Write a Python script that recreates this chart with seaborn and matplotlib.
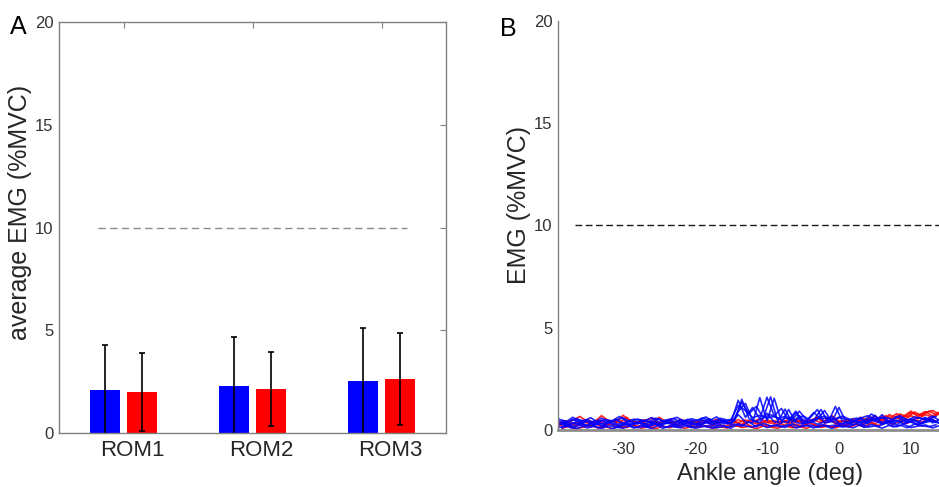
import numpy as np
import pandas as pd
import matplotlib
matplotlib.use('Agg')
import matplotlib.pyplot as plt
import seaborn as sns
from matplotlib.transforms import ScaledTranslation

# Panel A: average EMG per range of motion
rom_labels = ['ROM1', 'ROM2', 'ROM3']
groups = ['Group 1', 'Group 2']
blue_mean = [2.07, 2.27, 2.53]
blue_sd = [2.19, 2.38, 2.60]
red_mean = [2.00, 2.14, 2.63]
red_sd = [1.88, 1.81, 2.26]
threshold = 10

# Panel B: EMG traces against ankle angle
ankle_angle = [-39, -38, -37, -36, -35, -34, -33, -32, -31, -30,
               -29, -28, -27, -26, -25, -24, -23, -22, -21, -20,
               -19, -18, -17, -16, -15, -14, -13, -12, -11, -10,
               -9, -8, -7, -6, -5, -4, -3, -2, -1, 0,
               1, 2, 3, 4, 5, 6, 7, 8, 9, 10,
               11, 12, 13, 14]
ankle_angle_half = [-38.5, -37.5, -36.5, -35.5, -34.5, -33.5, -32.5, -31.5, -30.5, -29.5,
                    -28.5, -27.5, -26.5, -25.5, -24.5, -23.5, -22.5, -21.5, -20.5, -19.5,
                    -18.5, -17.5, -16.5, -15.5, -14.5, -13.5, -12.5, -11.5, -10.5, -9.5,
                    -8.5, -7.5, -6.5, -5.5, -4.5, -3.5, -2.5, -1.5, -0.5, 0.5,
                    1.5, 2.5, 3.5, 4.5, 5.5, 6.5, 7.5, 8.5, 9.5, 10.5,
                    11.5, 12.5, 13.5]

blue_1 = [0.45, 0.30, 0.52, 0.38, 0.41, 0.28, 0.47, 0.35, 0.50, 0.33,
          0.42, 0.29, 0.48, 0.37, 0.55, 0.31, 0.44, 0.36, 0.40, 0.27,
          0.49, 0.34, 0.43, 0.30, 0.38, 1.45, 0.62, 1.10, 0.55, 1.60,
          0.70, 1.05, 0.48, 0.92, 0.40, 0.35, 0.52, 0.95, 0.41, 1.10,
          0.38, 0.45, 0.33, 0.51, 0.42, 0.75, 0.36, 0.48, 0.30, 0.55,
          0.40, 0.62, 0.35, 0.50]
blue_2 = [0.25, 0.40, 0.18, 0.35, 0.22, 0.46, 0.20, 0.38, 0.15, 0.30,
          0.26, 0.41, 0.19, 0.33, 0.24, 0.45, 0.21, 0.36, 0.17, 0.32,
          0.28, 0.42, 0.20, 0.50, 0.30, 0.75, 0.40, 0.35, 1.58, 0.45,
          1.55, 0.42, 0.38, 0.85, 0.30, 0.44, 0.28, 0.40, 0.65, 0.33,
          0.27, 0.41, 0.60, 0.35, 0.72, 0.30, 0.45, 0.25, 0.50, 0.38,
          0.29, 0.44, 0.52, 0.31]
blue_3 = [0.12, 0.20, 0.08, 0.25, 0.10, 0.18, 0.06, 0.22, 0.14, 0.09,
          0.21, 0.11, 0.17, 0.07, 0.24, 0.13, 0.19, 0.10, 0.26, 0.08,
          0.16, 0.23, 0.11, 0.18, 0.09, 0.30, 0.20, 0.14, 0.27, 0.12,
          0.22, 0.15, 0.28, 0.10, 0.19, 0.25, 0.13, 0.21, 0.08, 0.24,
          0.17, 0.11, 0.26, 0.14, 0.20, 0.09, 0.23, 0.16, 0.28, 0.12,
          0.19, 0.25, 0.10, 0.22]
blue_4 = [0.55, 0.38, 0.62, 0.44, 0.50, 0.36, 0.58, 0.41, 0.47, 0.60,
          0.39, 0.53, 0.45, 0.61, 0.37, 0.49, 0.56, 0.40, 0.52, 0.43,
          0.59, 0.46, 0.64, 0.38, 0.51, 1.20, 0.95, 0.60, 0.72, 0.58,
          0.66, 0.50, 0.62, 0.45, 0.70, 0.48, 0.55, 0.68, 0.47, 0.63,
          0.52, 0.44, 0.58, 0.70, 0.49, 0.61, 0.43, 0.66, 0.54, 0.47,
          0.60, 0.51, 0.68, 0.45]
blue_5 = [0.32, 0.22, 0.36, 0.27, 0.44, 0.24, 0.31, 0.40, 0.26, 0.35,
          0.23, 0.37, 0.29, 0.42, 0.25, 0.34, 0.28, 0.50, 0.33, 0.26,
          0.38, 0.55, 0.31, 0.44, 0.27, 0.90, 1.30, 0.48, 0.36, 0.82,
          0.40, 0.33, 1.00, 0.37, 0.29, 0.60, 1.00, 0.34, 0.42, 0.28,
          0.36, 0.25, 0.43, 0.31, 0.58, 0.27, 0.39, 0.46, 0.30, 0.41,
          0.26, 0.37, 0.45, 0.33]
blue_6 = [0.35, 0.20, 0.42, 0.28, 0.16, 0.38, 0.25, 0.45, 0.19, 0.33,
          0.27, 0.40, 0.18, 0.36, 0.24, 0.48, 0.22, 0.31, 0.43, 0.20,
          0.37, 0.26, 0.52, 0.30, 0.45, 1.50, 0.55, 0.40, 0.62, 1.62,
          0.42, 1.02, 0.36, 0.70, 0.33, 0.48, 1.00, 0.38, 1.15, 0.41,
          0.30, 0.46, 0.25, 0.62, 0.35, 0.44, 0.28, 0.52, 0.37, 0.45,
          0.31, 0.49, 0.36]
blue_7 = [0.10, 0.24, 0.07, 0.19, 0.28, 0.12, 0.21, 0.06, 0.17, 0.26,
          0.09, 0.22, 0.14, 0.30, 0.08, 0.20, 0.13, 0.27, 0.11, 0.23,
          0.16, 0.09, 0.25, 0.13, 0.29, 0.18, 0.40, 0.15, 0.33, 0.20,
          0.26, 0.12, 0.30, 0.17, 0.22, 0.10, 0.28, 0.19, 0.24, 0.14,
          0.21, 0.32, 0.12, 0.27, 0.18, 0.35, 0.15, 0.24, 0.11, 0.29,
          0.20, 0.16, 0.26]
blue_8 = [0.48, 0.40, 0.56, 0.43, 0.60, 0.38, 0.51, 0.45, 0.66, 0.41,
          0.53, 0.47, 0.39, 0.58, 0.44, 0.50, 0.62, 0.42, 0.55, 0.46,
          0.64, 0.40, 0.57, 0.49, 0.53, 1.35, 0.80, 1.15, 0.60, 0.75,
          0.58, 0.66, 0.50, 0.92, 0.47, 0.85, 0.54, 0.61, 0.49, 0.68,
          0.52, 0.58, 0.45, 0.78, 0.55, 0.62, 0.50, 0.70, 0.48, 0.64,
          0.57, 0.53, 0.66]
red_1 = [0.40, 0.35, 0.48, 0.66, 0.42, 0.38, 0.70, 0.45, 0.36, 0.72,
         0.44, 0.39, 0.50, 0.36, 0.62, 0.41, 0.37, 0.48, 0.43, 0.35,
         0.46, 0.40, 0.52, 0.38, 0.44, 0.36, 0.49, 0.41, 0.55, 0.39,
         0.45, 0.37, 0.50, 0.42, 0.48, 0.40, 0.62, 0.38, 0.70, 0.43,
         0.47, 0.52, 0.44, 0.58, 0.49, 0.66, 0.55, 0.80, 0.60, 0.85,
         0.72, 0.90, 0.68, 0.88]
red_2 = [0.18, 0.30, 0.12, 0.26, 0.20, 0.34, 0.15, 0.28, 0.22, 0.11,
         0.27, 0.16, 0.32, 0.19, 0.25, 0.13, 0.29, 0.21, 0.35, 0.17,
         0.24, 0.14, 0.31, 0.20, 0.26, 0.18, 0.33, 0.15, 0.28, 0.22,
         0.19, 0.30, 0.16, 0.27, 0.21, 0.36, 0.18, 0.25, 0.14, 0.29,
         0.23, 0.38, 0.20, 0.45, 0.31, 0.52, 0.40, 0.60, 0.48, 0.70,
         0.55, 0.75, 0.62, 0.80]
red_3 = [0.30, 0.45, 0.28, 0.40, 0.52, 0.33, 0.47, 0.29, 0.55, 0.36,
         0.50, 0.31, 0.43, 0.58, 0.34, 0.46, 0.30, 0.52, 0.38, 0.44,
         0.33, 0.48, 0.37, 0.42, 0.29, 0.51, 0.35, 0.45, 0.32, 0.49,
         0.38, 0.43, 0.31, 0.52, 0.36, 0.47, 0.60, 0.34, 0.44, 0.39,
         0.50, 0.36, 0.62, 0.45, 0.70, 0.42, 0.75, 0.58, 0.68, 0.92,
         0.65, 0.85, 0.95, 0.78]
red_4 = [0.28, 0.42, 0.22, 0.38, 0.31, 0.50, 0.25, 0.44, 0.36, 0.62,
         0.30, 0.47, 0.26, 0.40, 0.33, 0.52, 0.27, 0.43, 0.35, 0.29,
         0.41, 0.24, 0.46, 0.32, 0.38, 0.27, 0.44, 0.30, 0.39, 0.34,
         0.28, 0.45, 0.33, 0.41, 0.26, 0.48, 0.37, 0.55, 0.31, 0.42,
         0.39, 0.50, 0.44, 0.62, 0.48, 0.70, 0.56, 0.78, 0.63, 0.88,
         0.70, 0.92, 0.75]
red_5 = [0.08, 0.18, 0.05, 0.14, 0.22, 0.10, 0.16, 0.07, 0.20, 0.12,
         0.25, 0.09, 0.15, 0.06, 0.19, 0.11, 0.23, 0.08, 0.17, 0.13,
         0.21, 0.07, 0.16, 0.10, 0.24, 0.12, 0.18, 0.06, 0.20, 0.14,
         0.09, 0.22, 0.11, 0.17, 0.08, 0.26, 0.13, 0.19, 0.10, 0.23,
         0.15, 0.28, 0.18, 0.34, 0.22, 0.40, 0.27, 0.46, 0.33, 0.52,
         0.38, 0.58, 0.42]

sns.set_style('white')
plt.rcParams['font.family'] = ['Liberation Sans', 'DejaVu Sans']
plt.rcParams['axes.unicode_minus'] = False

bar_df = pd.DataFrame({
    'rom': rom_labels * 2,
    'group': [groups[0]] * 3 + [groups[1]] * 3,
    'emg': blue_mean + red_mean,
})
sd_lookup = {(groups[0], r): s for r, s in zip(rom_labels, blue_sd)}
sd_lookup.update({(groups[1], r): s for r, s in zip(rom_labels, red_sd)})

trace_list = [('r1', groups[1], ankle_angle, red_1), ('r2', groups[1], ankle_angle, red_2),
              ('r3', groups[1], ankle_angle, red_3), ('r4', groups[1], ankle_angle_half, red_4),
              ('r5', groups[1], ankle_angle_half, red_5),
              ('b1', groups[0], ankle_angle, blue_1), ('b2', groups[0], ankle_angle, blue_2),
              ('b3', groups[0], ankle_angle, blue_3), ('b4', groups[0], ankle_angle, blue_4),
              ('b5', groups[0], ankle_angle, blue_5), ('b6', groups[0], ankle_angle_half, blue_6),
              ('b7', groups[0], ankle_angle_half, blue_7), ('b8', groups[0], ankle_angle_half, blue_8)]
rows = []
for name, grp, angles, vals in trace_list:
    for a, v in zip(angles, vals):
        rows.append((name, grp, a, v))
trace_df = pd.DataFrame(rows, columns=['trace', 'group', 'angle', 'emg'])

palette = {groups[0]: (0, 0, 1), groups[1]: (1, 0, 0)}
spine_col = '0.5'
tick_col = '0.2'

fig = plt.figure(figsize=(9.39, 4.87), dpi=100)
ax1 = fig.add_axes([59 / 939, 1 - 433 / 487, 387 / 939, 411 / 487])
ax2 = fig.add_axes([558.3 / 939, 1 - 430 / 487, 380.7 / 939, 409.3 / 487])

# ---- Panel A ----
sns.barplot(data=bar_df, x='rom', y='emg', hue='group', hue_order=groups,
            palette=palette, saturation=1, width=0.58, gap=0.2, errorbar=None,
            legend=False, edgecolor='none', ax=ax1)
for p in ax1.patches:
    cx = p.get_x() + p.get_width() / 2
    idx = int(round(cx))
    grp = groups[0] if cx < idx else groups[1]
    ax1.errorbar(cx, p.get_height(), yerr=sd_lookup[(grp, rom_labels[idx])],
                 fmt='none', ecolor='k', elinewidth=1.2, capsize=2.2, capthick=1.2)
ax1.axhline(threshold, xmin=0.1, xmax=0.9, color='0.55', lw=1.0, ls=(0, (5.3, 3.1)))
ax1.set_xlim(-0.5, 2.5)
ax1.set_ylim(0, 20)
ax1.set_yticks([0, 5, 10, 15, 20])
ax1.tick_params(axis='both', direction='in', length=4, width=0.8, color=spine_col,
                top=True, right=True)
ax1.tick_params(axis='y', labelsize=12, labelcolor=tick_col, pad=4)
ax1.tick_params(axis='x', labelsize=16, labelcolor='0.15', pad=5)
for lbl in ax1.get_xticklabels():
    lbl.set_transform(lbl.get_transform() + ScaledTranslation(9 / 100, 0, fig.dpi_scale_trans))
for s in ax1.spines.values():
    s.set_color(spine_col)
    s.set_linewidth(1.0)
ax1.set_xlabel('')
ax1.set_ylabel('average EMG (%MVC)', fontsize=18, color='0.15')
ax1.yaxis.set_label_coords(-0.1008, 0.5377)
ax1.yaxis.label.set_va('center')

# ---- Panel B ----
sns.lineplot(data=trace_df, x='angle', y='emg', hue='group', hue_order=[groups[1], groups[0]],
             units='trace', estimator=None, palette=palette, lw=1.2, alpha=0.85,
             legend=False, sort=False, ax=ax2)
ax2.axhline(threshold, xmin=0.044, xmax=1.0, color='0.1', lw=1.0, ls=(0, (4.8, 2.6)))
ax2.set_xlim(-39, 13.9)
ax2.set_ylim(0, 20)
ax2.set_xticks([-30, -20, -10, 0, 10])
ax2.set_yticks([0, 5, 10, 15, 20])
ax2.spines['top'].set_visible(False)
ax2.spines['right'].set_visible(False)
ax2.spines['left'].set_color(spine_col)
ax2.spines['left'].set_linewidth(1.0)
ax2.spines['bottom'].set_color('0.55')
ax2.spines['bottom'].set_linewidth(2.0)
ax2.tick_params(axis='both', direction='in', length=4, width=0.8, color=spine_col)
ax2.tick_params(axis='y', labelsize=12, labelcolor=tick_col, pad=4)
ax2.tick_params(axis='x', labelsize=12, labelcolor=tick_col, pad=9)
ax2.set_xlabel('Ankle angle (deg)', fontsize=17, color='0.15')
ax2.xaxis.set_label_coords(0.556, -0.1075)
ax2.xaxis.label.set_va('center')
ax2.set_ylabel('EMG (%MVC)', fontsize=18, color='0.15')
ax2.yaxis.set_label_coords(-0.1032, 0.5497)
ax2.yaxis.label.set_va('center')

fig.text(18.5 / 939, 1 - 27 / 487, 'A', fontsize=18, ha='center', va='center', color='k')
fig.text(508 / 939, 1 - 29 / 487, 'B', fontsize=18, ha='center', va='center', color='k')

fig.savefig('out.png', dpi=100)
